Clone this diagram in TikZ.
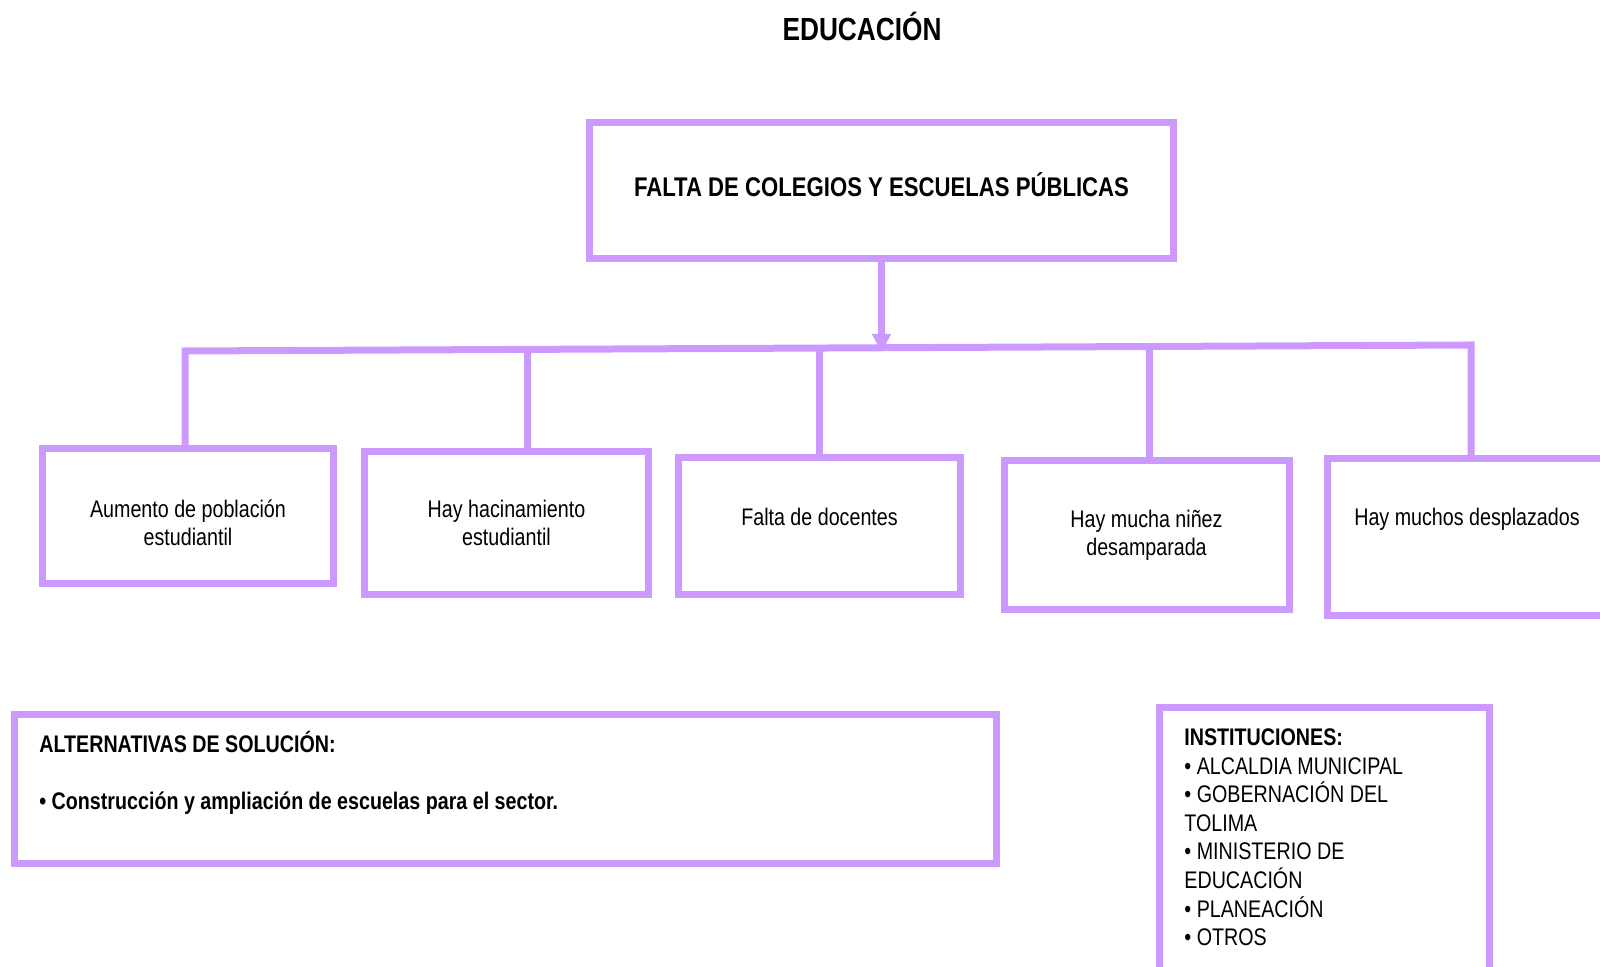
\documentclass[tikz,border=0pt]{standalone}
\usepackage{fontspec}
\setmainfont{Liberation Sans}[FakeStretch=0.82]
\usetikzlibrary{arrows.meta}
\definecolor{lila}{HTML}{CC99FF}

\begin{document}
\begin{tikzpicture}[
    x=0.5pt, y=-0.5pt,
    caja/.style={rectangle, draw=lila, line width=3.5pt, align=center, font=\fontsize{12}{14}\selectfont},
    enlace/.style={draw=lila, line width=3.5pt},
    flecha/.style={enlace, -{Triangle[width=9pt, length=9pt]}},
    lista/.style={anchor=base west, align=left, inner sep=0pt}
]
\useasboundingbox (0,0) rectangle (1600,967);
\clip (0,0) rectangle (1600,967);

\node (titulo) at (862,26) {\fontsize{16}{19}\selectfont\bfseries EDUCACIÓN};

\node (problema) [caja, minimum width=292pt, minimum height=68pt, text depth=6pt, font=\bfseries\fontsize{13.5}{16}\selectfont] at (881.5,191) {FALTA DE COLEGIOS Y ESCUELAS PÚBLICAS};

\node (c1) [caja, minimum width=145.5pt, minimum height=67.5pt, text height=29.3pt] at (188,516) {Aumento de población\\estudiantil};
\node (c2) [caja, minimum width=142pt, minimum height=71.5pt] at (506.5,523) {Hay hacinamiento\\estudiantil};
\node (c3) [caja, minimum width=141pt, minimum height=68pt, text depth=9pt] at (819.5,526) {Falta de docentes};
\node (c4) [caja, minimum width=142.5pt, minimum height=74pt] at (1146.5,535) {Hay mucha niñez\\desamparada};
\node (c5) [caja, minimum width=139.5pt, minimum height=78.5pt, text depth=20.5pt] at (1467,537) {Hay muchos desplazados};

\coordinate (bI) at (185,351);
\coordinate (bD) at (1471,345);
\coordinate (b2) at (527.5,349.4);
\coordinate (b3) at (819,348);
\coordinate (b4) at (1149,346.5);
\coordinate (punta) at (881.5,352);

\draw [enlace] (bI |- c1.north) -- (bI) -- (bD) -- (bD |- c5.north);
\draw [enlace] (b2) -- ([yshift=-2pt]b2 |- c2.north);
\draw [enlace] (b3) -- (b3 |- c3.north);
\draw [enlace] (b4) -- (b4 |- c4.north);
\draw [flecha] (problema.south) -- (punta);

\node (alternativas) [caja, minimum width=491pt, minimum height=74.5pt] at (505,789) {};
\node (alt-texto) [lista, font=\bfseries\fontsize{12}{14}\selectfont] at (39,809.6) {ALTERNATIVAS DE SOLUCIÓN:\\[14.5pt]• Construcción y ampliación de escuelas para el sector.};

\node (instituciones) [caja, anchor=north, minimum width=165pt, minimum height=150pt] at (1324.5,704) {};
\node (inst-texto) [lista, font=\fontsize{12}{14.3}\selectfont] at (1184,945.6) {\textbf{INSTITUCIONES:}\\• ALCALDIA MUNICIPAL\\• GOBERNACIÓN DEL\\TOLIMA\\• MINISTERIO DE\\EDUCACIÓN\\• PLANEACIÓN\\• OTROS};

\end{tikzpicture}
\end{document}
